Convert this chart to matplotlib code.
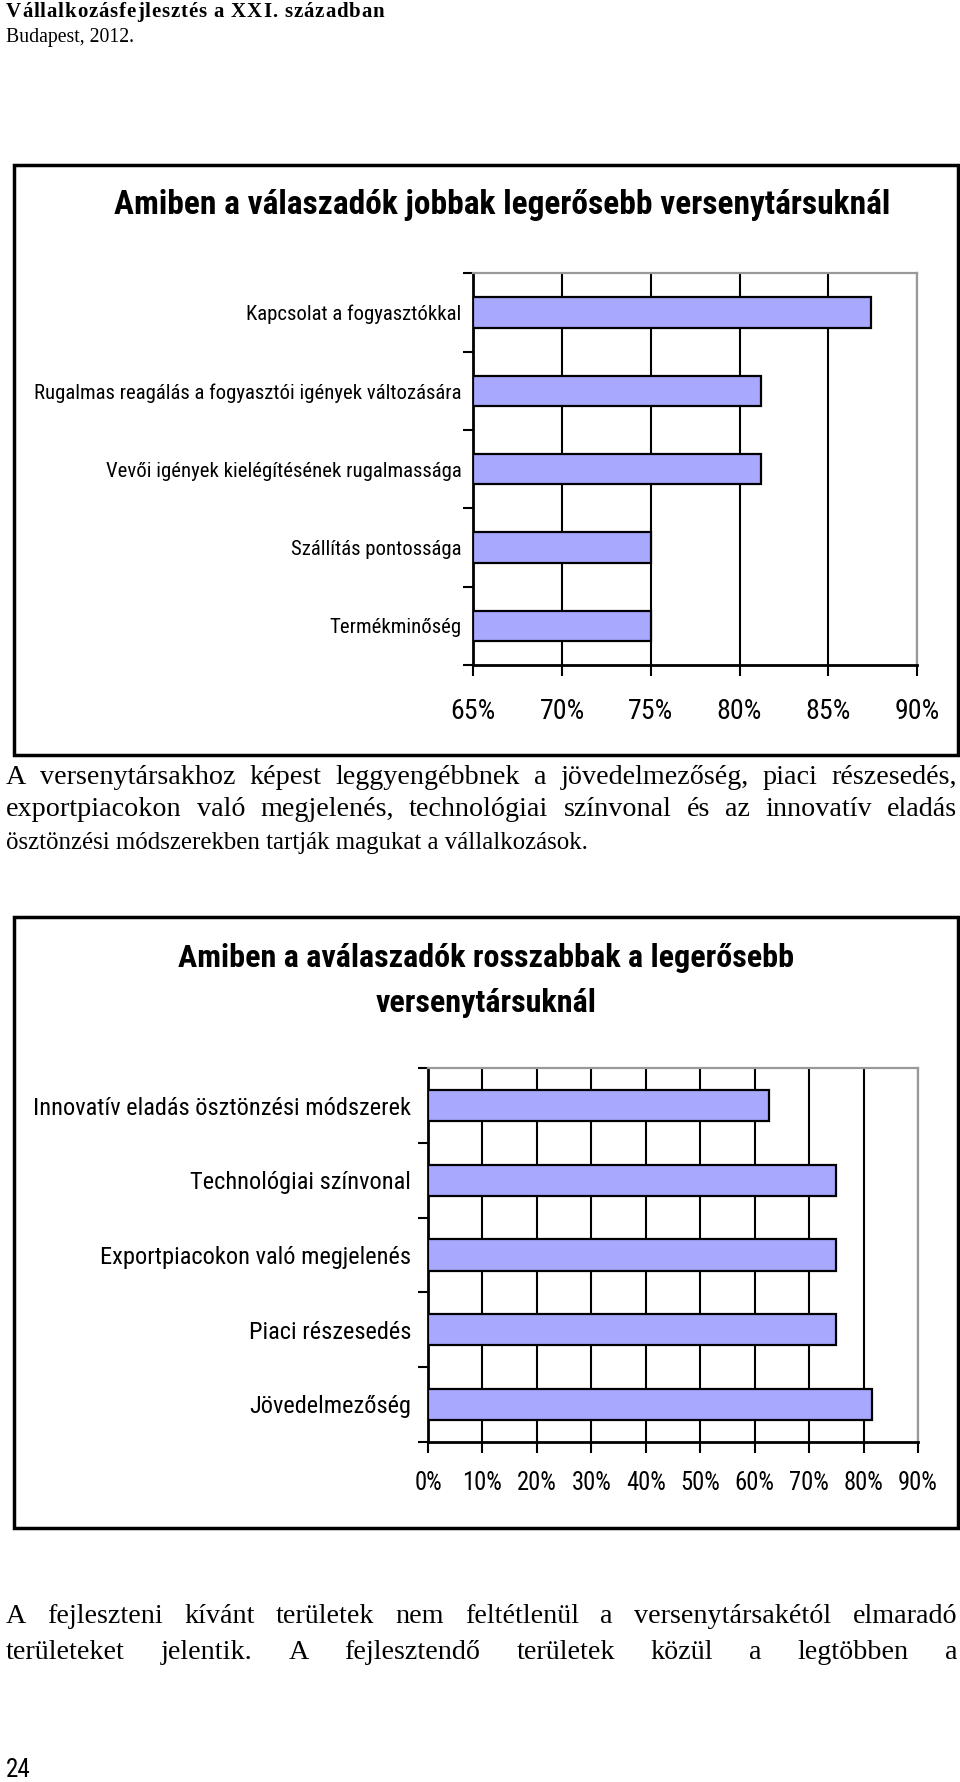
import os
import matplotlib
matplotlib.use('Agg')
import matplotlib.pyplot as plt
from matplotlib.patches import Rectangle
from matplotlib import font_manager as fm
import numpy as np

# ---------------- data ----------------
cats1 = ["Kapcsolat a fogyasztókkal",
         "Rugalmas reagálás a fogyasztói igények változására",
         "Vevői igények kielégítésének rugalmassága",
         "Szállítás pontossága",
         "Termékminőség"]
vals1 = [0.874, 0.812, 0.812, 0.75, 0.75]
title1 = "Amiben a válaszadók jobbak legerősebb versenytársuknál"

cats2 = ["Innovatív eladás ösztönzési módszerek",
         "Technológiai színvonal",
         "Exportpiacokon való megjelenés",
         "Piaci részesedés",
         "Jövedelmezőség"]
vals2 = [0.627, 0.75, 0.75, 0.75, 0.815]
title2 = ["Amiben a aválaszadók rosszabbak a legerősebb", "versenytársuknál"]

header1 = "Vállalkozásfejlesztés a XXI. században"
header2 = "Budapest, 2012."
para1 = ["A versenytársakhoz képest leggyengébbnek a jövedelmezőség, piaci részesedés,",
         "exportpiacokon való megjelenés, technológiai színvonal és az innovatív eladás",
         "ösztönzési módszerekben tartják magukat a vállalkozások."]
para2 = ["A fejleszteni kívánt területek nem feltétlenül a versenytársakétól elmaradó",
         "területeket jelentik. A fejlesztendő területek közül a legtöbben a"]
page_no = "24"

# ---------------- setup ----------------
W, H = 960, 1782
fig = plt.figure(figsize=(9.6, 17.82), dpi=100)
fig.patch.set_facecolor('white')
renderer = fig.canvas.get_renderer()

SERIF = ['Liberation Serif', 'DejaVu Serif']
SANS = ['Liberation Sans', 'DejaVu Sans']
BAR = '#A8A8FF'


def find_condensed(bold):
    prefs = ['liberation sans narrow', 'arial narrow', 'roboto condensed',
             'noto sans condensed', 'notosans-condensed', 'open sans condensed',
             'opensans_condensed', 'opensans-condensed', 'dejavu sans condensed',
             'dejavusanscondensed', 'lato', 'noto sans']
    best = None
    for f in fm.fontManager.ttflist:
        name = f.name.lower()
        base = os.path.basename(f.fname).lower()
        key = name + ' ' + base
        if 'mono' in key or 'serif' in key or 'italic' in key or 'oblique' in key:
            continue
        if 'extra' in key or 'ultra' in key or 'semi' in key or 'light' in key \
                or 'thin' in key or 'medium' in key or 'black' in key:
            continue
        cond = ('narrow' in key or 'condensed' in key or
                f.stretch in ('condensed',))
        if not cond:
            continue
        is_bold = ('bold' in key) or (isinstance(f.weight, int) and f.weight >= 600) \
            or f.weight == 'bold'
        if is_bold != bold:
            continue
        rank = len(prefs)
        for i, p in enumerate(prefs):
            if p in key:
                rank = i
                break
        if best is None or rank < best[0]:
            best = (rank, f.fname)
    return best[1] if best else None


COND_R = find_condensed(False)
COND_B = find_condensed(True) or COND_R


def fp_cond(bold=False, size=10):
    path = COND_B if bold else COND_R
    if path:
        return fm.FontProperties(fname=path, size=size)
    return fm.FontProperties(family=SANS, weight='bold' if bold else 'normal', size=size)


def fp_fam(family, size, weight='normal'):
    return fm.FontProperties(family=family, size=size, weight=weight)


def fx(x):
    return x / W


def fy(y):
    return 1 - y / H


def width_fp(s, fp):
    t = fig.text(0, 0, s, fontproperties=fp)
    w = t.get_window_extent(renderer).width
    t.remove()
    return w


def fit_fp(s, target, maker, base=20.0):
    return base * target / width_fp(s, maker(base))


def make_axes(left, right, top, bottom):
    return fig.add_axes([fx(left), fy(bottom), (right - left) / W, (bottom - top) / H])


def draw_chart(ax, cats, vals, xmin, xmax, step, label_size, tick_size,
               bar_h, ypad, xpad):
    n = len(cats)
    pos = np.arange(n)
    ax.barh(pos, [v - xmin for v in vals], left=xmin, height=bar_h,
            color=BAR, edgecolor='black', linewidth=1.6, zorder=3)
    ax.set_xlim(xmin, xmax)
    ax.set_ylim(n - 0.5, -0.5)
    ticks = np.arange(xmin, xmax + step / 2, step)
    ax.set_xticks(ticks)
    ax.set_xticklabels([f"{int(round(t * 100))}%" for t in ticks])
    ax.set_yticks(np.arange(-0.5, n, 1.0))
    ax.set_yticklabels([])
    ax.set_yticks(pos, minor=True)
    ax.set_yticklabels(cats, minor=True)
    ax.tick_params(axis='y', which='minor', length=0, pad=ypad)
    ax.tick_params(axis='y', which='major', length=7, width=1.5, direction='out')
    ax.tick_params(axis='x', length=8, width=1.5, direction='out', pad=xpad)
    for lab in ax.get_yticklabels(minor=True):
        lab.set_fontproperties(fp_cond(False, label_size))
    for lab in ax.get_xticklabels():
        lab.set_fontproperties(fp_cond(False, tick_size))
    ax.grid(axis='x', color='black', linewidth=1.5)
    ax.grid(axis='y', visible=False)
    ax.set_axisbelow(True)
    for s in ['left', 'bottom']:
        ax.spines[s].set_color('black')
        ax.spines[s].set_linewidth(2)
    for s in ['top', 'right']:
        ax.spines[s].set_color('#999999')
        ax.spines[s].set_linewidth(1.6)
    ax.set_facecolor('white')


def frame(left, top, right, bottom):
    fig.add_artist(Rectangle((fx(left), fy(bottom)), (right - left) / W,
                             (bottom - top) / H, transform=fig.transFigure,
                             fill=False, edgecolor='black', linewidth=2.5))


def justify(line, y, x0, x1, fp):
    words = line.split()
    widths = [width_fp(w, fp) for w in words]
    gap = (x1 - x0 - sum(widths)) / (len(words) - 1)
    x = x0
    for w, wd in zip(words, widths):
        fig.text(fx(x), fy(y), w, fontproperties=fp, va='baseline', ha='left')
        x += wd + gap


def spaced(line, y, x0, x1, fp):
    sp = width_fp('a a', fp) - width_fp('aa', fp)
    widths = [width_fp(c, fp) if c != ' ' else sp for c in line]
    gap = (x1 - x0 - sum(widths)) / (len(line) - 1)
    x = x0
    for c, wd in zip(line, widths):
        if c != ' ':
            fig.text(fx(x), fy(y), c, fontproperties=fp, va='baseline', ha='left')
        x += wd + gap


# ---------------- header ----------------
spaced(header1, 17, 6, 384, fp_fam(SERIF, 15, 'bold'))
hs = fit_fp(header2, 128, lambda s: fp_fam(SERIF, s))
fig.text(fx(6), fy(42), header2, fontproperties=fp_fam(SERIF, hs),
         va='baseline', ha='left')

# ---------------- chart 1 ----------------
frame(13.5, 164.7, 958, 755)
t1 = fit_fp(title1, 773, lambda s: fp_cond(True, s))
fig.text(fx(502), fy(205), title1, fontproperties=fp_cond(True, t1),
         ha='center', va='center')
ax1 = make_axes(473.3, 917, 273.3, 665)
draw_chart(ax1, cats1, vals1, 0.65, 0.90, 0.05,
           label_size=fit_fp(cats1[1], 427, lambda s: fp_cond(False, s)),
           tick_size=fit_fp("65%", 45, lambda s: fp_cond(False, s)),
           bar_h=0.39, ypad=8.5, xpad=16)

# ---------------- paragraphs ----------------
# body size chosen so that the first justified line has ~14 px word gaps
w1 = para1[0].split()
base_sum = sum(width_fp(w, fp_fam(SERIF, 20)) for w in w1)
psize = 20 * (951 - 14 * (len(w1) - 1)) / base_sum
pfp = fp_fam(SERIF, psize)
p1_base = [784, 816, 849]
justify(para1[0], p1_base[0], 6, 957, pfp)
justify(para1[1], p1_base[1], 6, 957, pfp)
lsize = fit_fp(para1[2], 583, lambda s: fp_fam(SERIF, s))
fig.text(fx(6), fy(p1_base[2]), para1[2], fontproperties=fp_fam(SERIF, lsize),
         va='baseline', ha='left')

# ---------------- chart 2 ----------------
frame(13.5, 916.7, 958, 1528)
t2 = fit_fp(title2[0], 616, lambda s: fp_cond(True, s))
fig.text(fx(486), fy(958), title2[0], fontproperties=fp_cond(True, t2),
         ha='center', va='center')
fig.text(fx(486), fy(1003), title2[1], fontproperties=fp_cond(True, t2),
         ha='center', va='center')
ax2 = make_axes(428, 918, 1068.3, 1441.7)
draw_chart(ax2, cats2, vals2, 0.0, 0.90, 0.10,
           label_size=fit_fp(cats2[0], 377, lambda s: fp_cond(False, s)),
           tick_size=fit_fp("10%", 40, lambda s: fp_cond(False, s)),
           bar_h=0.42, ypad=12, xpad=13)

p2_base = [1623, 1659]
for line, yb in zip(para2, p2_base):
    justify(line, yb, 6, 957, pfp)

ns = fit_fp(page_no, 25, lambda s: fp_cond(False, s))
fig.text(fx(6), fy(1777), page_no, fontproperties=fp_cond(False, ns),
         va='baseline', ha='left')

fig.savefig('out.png', dpi=100, facecolor='white')
